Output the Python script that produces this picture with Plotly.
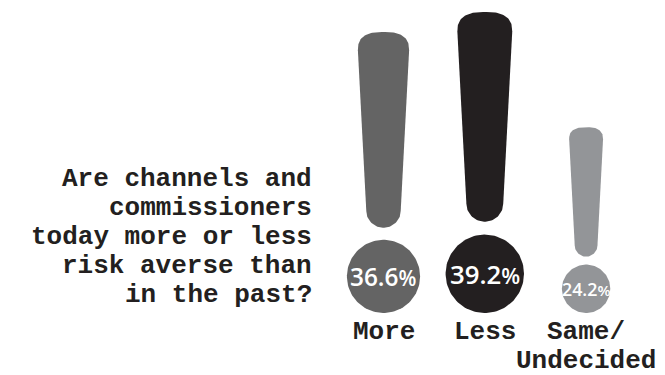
import numpy as np
import plotly.graph_objects as go

# ---- data ----
categories = ["More", "Less", "Same/Undecided"]
label_lines = [["More"], ["Less"], ["Same/", "Undecided"]]
values = [36.6, 39.2, 24.2]
colors = ["#646464", "#231f20", "#939598"]
question_lines = ["Are channels and", "commissioners", "today more or less",
                  "risk averse than", "in the past?"]

# ---- layout constants (pixel-scaled axes: 1 unit = 1 px) ----
W, H = 665, 375
BASE = 313          # screen y of glyph baseline
X0, STEP = 383.5, 101.3
TXT = "#231f20"
MONO = "Liberation Mono"
MONO_SIZE = 26
MID = (0.833 - 0.300) / 2 * MONO_SIZE   # baseline -> bbox middle offset

def centers(i):
    return X0 + i * STEP

def bar_polygon(cx, v, n=2.6):
    yb, yt = 2.33 * v, 7.68 * v
    wt, wb = 1.40 * v, 0.94 * v
    ht, hb = 0.50 * v, 0.46 * v
    xs, ys = [], []
    for t in np.linspace(np.pi, 2 * np.pi, 40):
        xs.append(cx + wb / 2 * np.cos(t))
        ys.append(yb + hb + hb * np.sin(t))
    for t in np.linspace(0, np.pi, 60):
        c, s = np.cos(t), np.sin(t)
        xs.append(cx + wt / 2 * np.sign(c) * abs(c) ** (2 / n))
        ys.append(yt - ht + ht * abs(s) ** (2 / n))
    xs.append(xs[0]); ys.append(ys[0])
    return xs, ys

def circle_polygon(cx, v):
    t = np.linspace(0, 2 * np.pi, 120)
    return cx + v * np.cos(t), v + v * np.sin(t)

fig = go.Figure()
annotations = []
for i, (v, col) in enumerate(zip(values, colors)):
    cx = centers(i)
    bx, by = bar_polygon(cx, v)
    fig.add_trace(go.Scatter(x=bx, y=by, fill="toself", fillcolor=col, mode="lines",
                             line=dict(width=0, color=col), hoverinfo="skip", showlegend=False))
    ccx, ccy = circle_polygon(cx, v)
    fig.add_trace(go.Scatter(x=ccx, y=ccy, fill="toself", fillcolor=col, mode="lines",
                             line=dict(width=0, color=col), hoverinfo="skip", showlegend=False))
    fs = 5 + 0.53 * v
    annotations.append(dict(
        x=cx, y=v, xref="x", yref="y", showarrow=False, xanchor="center", yanchor="middle",
        text=f"{v:.1f}<span style='font-size:{fs*0.85:.1f}px'>%</span>",
        font=dict(family="Open Sans", size=fs, color="white", weight=600)))
    for k, line in enumerate(label_lines[i]):
        annotations.append(dict(
            x=cx, y=(BASE - 338.5) - 29.5 * k + MID, xref="x", yref="y", showarrow=False,
            xanchor="center", yanchor="middle", text=line,
            font=dict(family=MONO, size=MONO_SIZE, color=TXT, weight="bold")))

for k, line in enumerate(question_lines):
    annotations.append(dict(
        x=314, y=(BASE - 186) - 29 * k + MID, xref="x", yref="y", showarrow=False,
        xanchor="right", yanchor="middle", text=line,
        font=dict(family=MONO, size=MONO_SIZE, color=TXT, weight="bold")))

fig.update_layout(
    width=W, height=H, margin=dict(l=0, r=0, t=0, b=0),
    paper_bgcolor="white", plot_bgcolor="white",
    xaxis=dict(range=[0, W], visible=False, fixedrange=True),
    yaxis=dict(range=[BASE - H, BASE], visible=False, fixedrange=True),
    annotations=annotations,
)
fig.write_html("out.html")
